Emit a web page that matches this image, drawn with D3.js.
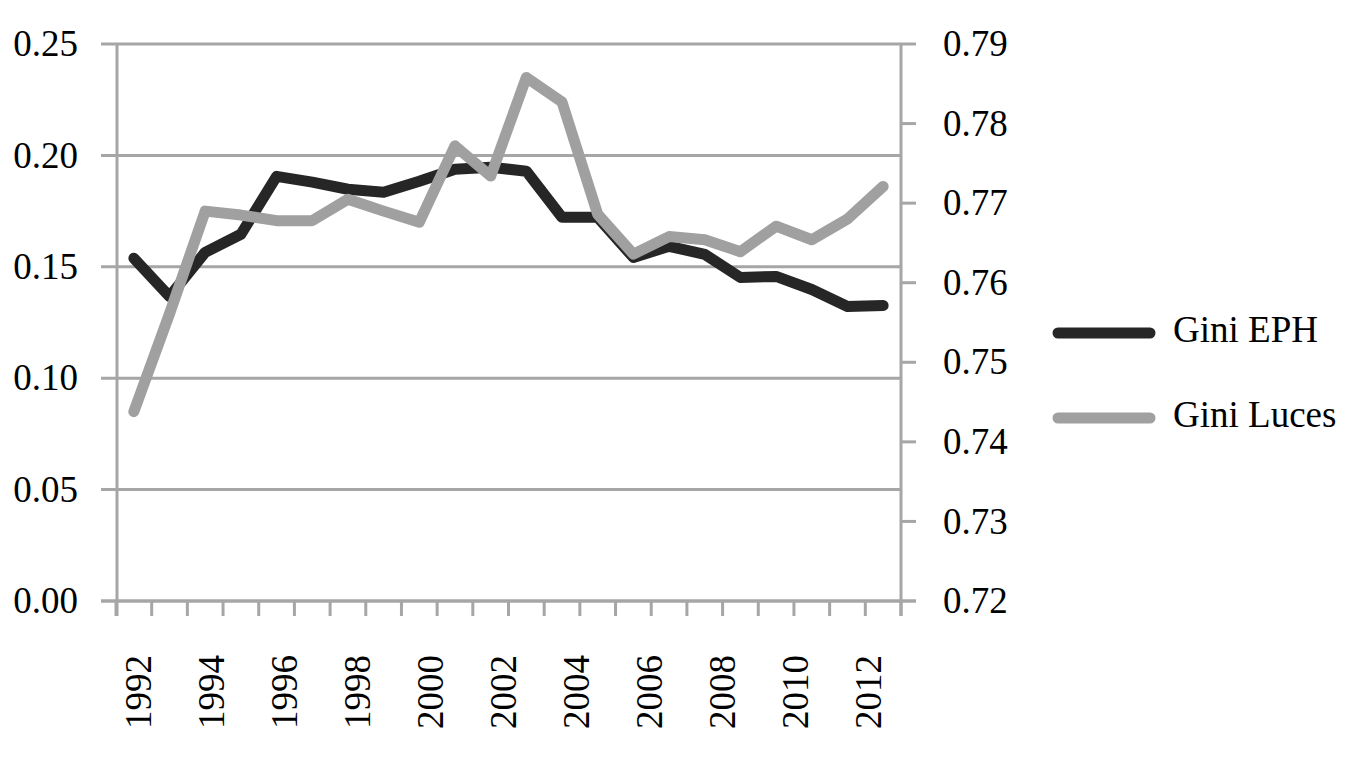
<!DOCTYPE html>
<html>
<head>
<meta charset="utf-8">
<script src="https://cdn.jsdelivr.net/npm/d3@7"></script>
<style>
  html, body { margin: 0; padding: 0; background: #fff; }
  text { font-family: "Liberation Serif", "Times New Roman", serif; fill: #000; }
</style>
</head>
<body>
<svg id="viz"></svg>
<script>
// data
var years = d3.range(1992, 2014);
var giniEPH = [0.1538, 0.1367, 0.1565, 0.1646, 0.1906, 0.1880, 0.1848, 0.1835, 0.1884, 0.1938, 0.1947,
               0.1929, 0.1722, 0.1722, 0.1542, 0.1592, 0.1556, 0.1452, 0.1457, 0.1398, 0.1322, 0.1326];
var giniLuces = [0.7438, 0.7561, 0.7690, 0.7685, 0.7678, 0.7678, 0.7705, 0.7690, 0.7676, 0.7772, 0.7734,
                 0.7858, 0.7827, 0.7686, 0.7636, 0.7658, 0.7654, 0.7639, 0.7671, 0.7654, 0.7680, 0.7721];
var leftTicks = [0, 0.05, 0.10, 0.15, 0.20, 0.25];
var rightTicks = [0.72, 0.73, 0.74, 0.75, 0.76, 0.77, 0.78, 0.79];
var yearLabels = d3.range(1992, 2013, 2);
var seriesNames = ['Gini EPH', 'Gini Luces'];

let svg = d3.select('#viz').attr('width', 1358).attr('height', 765);

var gridColor = '#a6a6a6';
var dark = '#262626';
var light = '#a0a0a0';
var fontSize = 37;

// plot box (avoid "top", it is window.top)
var pLeft = 116, pRight = 901, pTop = 44, pBottom = 601;

var x = d3.scaleBand().domain(years).range([pLeft, pRight]).paddingInner(0).paddingOuter(0);
var xc = d => x(d) + x.bandwidth() / 2;
var yL = d3.scaleLinear().domain([0, 0.25]).range([pBottom, pTop]);
var yR = d3.scaleLinear().domain([0.72, 0.79]).range([pBottom, pTop]);

// year labels sit slightly spread compared with the bands in the original
var xLab = d3.scaleLinear().domain([1992, 2012]).range([xc(1992) + 5, xc(2012) + 21]);

// gridlines (with left tick extension)
svg.append('g').selectAll('line')
  .data(leftTicks).enter().append('line')
  .attr('x1', pLeft - 15).attr('x2', pRight)
  .attr('y1', d => yL(d)).attr('y2', d => yL(d))
  .attr('stroke', gridColor).attr('stroke-width', 3);

// left labels
svg.append('g').selectAll('text')
  .data(leftTicks).enter().append('text')
  .attr('x', 78).attr('y', d => yL(d))
  .attr('dy', '0.33em')
  .attr('text-anchor', 'end')
  .attr('font-size', fontSize)
  .text(d => d3.format('.2f')(d));

// left & right axis lines
svg.append('line').attr('x1', pLeft + 1).attr('x2', pLeft + 1).attr('y1', pTop).attr('y2', pBottom + 15)
  .attr('stroke', gridColor).attr('stroke-width', 3);
svg.append('line').attr('x1', pRight).attr('x2', pRight).attr('y1', pTop).attr('y2', pBottom + 15)
  .attr('stroke', gridColor).attr('stroke-width', 3);

// bottom axis line
svg.append('line').attr('x1', pLeft - 15).attr('x2', pRight + 15).attr('y1', pBottom).attr('y2', pBottom)
  .attr('stroke', gridColor).attr('stroke-width', 3);

// bottom ticks on band boundaries
var boundaries = years.map(d => x(d)).concat([pRight]);
svg.append('g').selectAll('line')
  .data(boundaries).enter().append('line')
  .attr('x1', d => d).attr('x2', d => d)
  .attr('y1', pBottom).attr('y2', pBottom + 15)
  .attr('stroke', gridColor).attr('stroke-width', 3);

// right ticks
svg.append('g').selectAll('line')
  .data(rightTicks).enter().append('line')
  .attr('x1', pRight).attr('x2', pRight + 15)
  .attr('y1', d => yR(d)).attr('y2', d => yR(d))
  .attr('stroke', gridColor).attr('stroke-width', 3);

// right labels
svg.append('g').selectAll('text')
  .data(rightTicks).enter().append('text')
  .attr('x', 943).attr('y', d => yR(d))
  .attr('dy', '0.33em')
  .attr('font-size', fontSize)
  .text(d => d3.format('.2f')(d));

// year labels (rotated)
svg.append('g').selectAll('text')
  .data(yearLabels).enter().append('text')
  .attr('transform', d => 'translate(' + xLab(d) + ',655)rotate(-90)')
  .attr('dy', '0.33em')
  .attr('text-anchor', 'end')
  .attr('font-size', fontSize)
  .text(d => d);

// series lines
var lineL = d3.line().x((d, i) => xc(years[i])).y(d => yL(d));
var lineR = d3.line().x((d, i) => xc(years[i])).y(d => yR(d));

svg.append('path')
  .attr('d', lineL(giniEPH))
  .attr('fill', 'none').attr('stroke', dark).attr('stroke-width', 11)
  .attr('stroke-linejoin', 'round').attr('stroke-linecap', 'round');

svg.append('path')
  .attr('d', lineR(giniLuces))
  .attr('fill', 'none').attr('stroke', light).attr('stroke-width', 11)
  .attr('stroke-linejoin', 'round').attr('stroke-linecap', 'round');

// legend
var legend = svg.append('g').selectAll('g')
  .data(seriesNames).enter().append('g')
  .attr('transform', (d, i) => 'translate(0,' + (333 + i * 85) + ')');
legend.append('line')
  .attr('x1', 1058).attr('x2', 1150)
  .attr('stroke', (d, i) => i === 0 ? dark : light)
  .attr('stroke-width', 11).attr('stroke-linecap', 'round');
legend.append('text')
  .attr('x', 1173).attr('y', 9)
  .attr('font-size', fontSize)
  .text(d => d);
</script>
</body>
</html>
